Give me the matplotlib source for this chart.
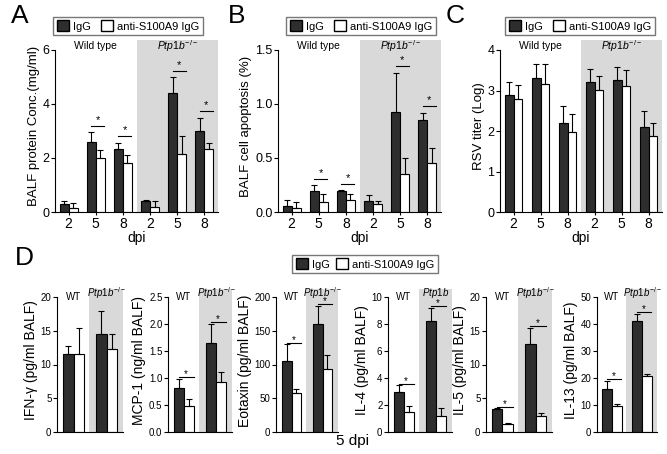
import numpy as np
import matplotlib
matplotlib.use("Agg")
import matplotlib.pyplot as plt
from matplotlib.patches import Patch

plt.rcParams["font.family"] = ["Liberation Sans", "DejaVu Sans"]
plt.rcParams["mathtext.fontset"] = "custom"
plt.rcParams["mathtext.rm"] = "Liberation Sans"
plt.rcParams["mathtext.it"] = "Liberation Sans:italic"

# ---- data: panels A-C (dpi 2,5,8 wild type then 2,5,8 Ptp1b-/-) ----
dpi_labels = ["2", "5", "8", "2", "5", "8"]

a_igg = [0.3, 2.6, 2.35, 0.4, 4.4, 3.0]
a_igg_err = [0.1, 0.35, 0.22, 0.05, 0.6, 0.5]
a_anti = [0.15, 2.0, 1.8, 0.2, 2.15, 2.35]
a_anti_err = [0.2, 0.3, 0.3, 0.22, 0.65, 0.2]
a_sig = [False, True, True, False, True, True]

b_igg = [0.06, 0.19, 0.19, 0.1, 0.93, 0.85]
b_igg_err = [0.05, 0.06, 0.01, 0.06, 0.36, 0.07]
b_anti = [0.04, 0.09, 0.11, 0.07, 0.35, 0.45]
b_anti_err = [0.05, 0.08, 0.06, 0.03, 0.15, 0.14]
b_sig = [False, True, True, False, True, True]

c_igg = [2.9, 3.3, 2.2, 3.2, 3.25, 2.1]
c_igg_err = [0.3, 0.35, 0.42, 0.33, 0.32, 0.4]
c_anti = [2.78, 3.15, 1.98, 3.02, 3.1, 1.88]
c_anti_err = [0.35, 0.5, 0.45, 0.35, 0.4, 0.32]
c_sig = [False] * 6

# ---- data: panel D (5 dpi, WT then Ptp1b-/-) ----
d_names = ["IFN-\u03b3 (pg/ml BALF)", "MCP-1 (ng/ml BALF)", "Eotaxin (pg/ml BALF)",
           "IL-4 (pg/ml BALF)", "IL-5 (pg/ml BALF)", "IL-13 (pg/ml BALF)"]
d_igg = [[11.6, 14.5], [0.82, 1.64], [105, 160], [3.0, 8.2], [3.4, 13.0], [16, 41]]
d_igg_err = [[1.2, 3.4], [0.16, 0.36], [25, 27], [0.45, 1.0], [0.1, 2.4], [3.0, 2.8]]
d_anti = [[11.5, 12.3], [0.48, 0.93], [58, 94], [1.5, 1.2], [1.2, 2.3], [9.8, 20.8]]
d_anti_err = [[3.9, 2.2], [0.13, 0.18], [5, 20], [0.4, 0.6], [0.1, 0.5], [0.7, 0.6]]
d_sig = [[False, False], [True, True], [True, True], [True, True], [True, True], [True, True]]
d_ticks = [[0, 5, 10, 15, 20], [0, 0.5, 1.0, 1.5, 2.0, 2.5], [0, 50, 100, 150, 200],
           [0, 2, 4, 6, 8, 10], [0, 5, 10, 15, 20], [0, 10, 20, 30, 40, 50]]
d_ptp_label = [True, True, True, False, True, True]

DARK = "#2e2e2e"
SHADE = "#d9d9d9"
PTP = r"$\mathit{Ptp1b}^{-/-}$"

W, H = 667, 454
fig = plt.figure(figsize=(W / 100, H / 100), dpi=100)


def px_axes(x0, x1, ytop, ybot):
    return fig.add_axes([x0 / W, 1 - ybot / H, (x1 - x0) / W, (ybot - ytop) / H])


def draw_bars(ax, igg, igg_err, anti, anti_err, sig, w, ymax, pad, star_fs, star_off):
    x = np.arange(len(igg))
    ax.bar(x - w / 2, igg, w, color=DARK, edgecolor="k", linewidth=0.8, zorder=2)
    ax.bar(x + w / 2, anti, w, color="white", edgecolor="k", linewidth=0.8, zorder=2)
    ax.errorbar(x - w / 2, igg, yerr=[np.zeros(len(igg)), igg_err], fmt="none",
                ecolor="k", elinewidth=0.8, capsize=2.5, capthick=0.8, zorder=3)
    ax.errorbar(x + w / 2, anti, yerr=[np.zeros(len(anti)), anti_err], fmt="none",
                ecolor="k", elinewidth=0.8, capsize=2.5, capthick=0.8, zorder=3)
    for i, s in enumerate(sig):
        if not s:
            continue
        top = max(igg[i] + igg_err[i], anti[i] + anti_err[i]) + pad * ymax
        ax.plot([x[i] - w / 2, x[i] + w * 0.95], [top, top], color="k", lw=0.8, zorder=3)
        ax.text(x[i] + w * 0.2, top + star_off * ymax, "*", ha="center", va="center",
                fontsize=star_fs, zorder=3)


def style(ax, ymax, fs):
    for s in ["top", "right"]:
        ax.spines[s].set_visible(False)
    ax.spines["left"].set_bounds(0, ymax)
    ax.spines["left"].set_linewidth(0.8)
    ax.spines["bottom"].set_linewidth(0.8)
    ax.tick_params(axis="y", length=3, width=0.8, labelsize=fs, pad=1)


def add_legend(cx, cy, spacing):
    fig.legend(handles=[Patch(fc=DARK, ec="k"), Patch(fc="white", ec="k")],
               labels=["IgG", "anti-S100A9 IgG"], loc="center",
               bbox_to_anchor=(cx / W, 1 - cy / H), ncol=2, fontsize=8,
               frameon=True, fancybox=False, edgecolor="#555555",
               handlelength=1.1, handleheight=1.1, handletextpad=0.35,
               columnspacing=spacing, borderpad=0.35)


# ---- panels A-C ----
top_panels = [
    ("A", 55, 218, a_igg, a_igg_err, a_anti, a_anti_err, a_sig, 6, [0, 2, 4, 6],
     "BALF protein Conc.(mg/ml)", 128, 20),
    ("B", 278, 441, b_igg, b_igg_err, b_anti, b_anti_err, b_sig, 1.5,
     [0.0, 0.5, 1.0, 1.5], "BALF cell apoptosis (%)", 361, 237),
    ("C", 500, 662, c_igg, c_igg_err, c_anti, c_anti_err, c_sig, 4, [0, 1, 2, 3, 4],
     "RSV titer (Log)", 580, 455),
]
for (letter, x0, x1, igg, igge, anti, antie, sig, ymax, ticks, ylab, legx,
     letx) in top_panels:
    ax = px_axes(x0, x1, 40, 212)
    ax.axvspan(2.5, 5.5, color=SHADE, zorder=0, lw=0)
    draw_bars(ax, igg, igge, anti, antie, sig, 0.33, ymax, 0.04, 8, 0.035)
    ax.set_xlim(-0.5, 5.5)
    ax.set_ylim(0, ymax * 172 / 162)
    style(ax, ymax, 9)
    ax.set_yticks(ticks)
    if letter == "B":
        ax.set_yticklabels(["%.1f" % t for t in ticks])
    ax.set_xticks(np.arange(6))
    ax.set_xticklabels(dpi_labels, fontsize=10)
    ax.tick_params(axis="x", length=2.5, width=0.8, pad=1)
    ax.set_ylabel(ylab, fontsize=9.5, labelpad=2)
    ax.set_xlabel("dpi", fontsize=10, labelpad=0)
    ax.text(1, ymax * 1.025, "Wild type", ha="center", va="center", fontsize=7.5)
    ax.text(4, ymax * 1.025, PTP, ha="center", va="center", fontsize=7.5)
    fig.text(letx / W, 1 - 16 / H, letter, fontsize=19, ha="center", va="center")
    add_legend(legx, 26, 0.9)

# ---- panel D ----
d_left = [57, 168, 276, 388, 486, 597]
d_right = [123, 232, 338, 452, 552, 657]
for i in range(6):
    ymax = d_ticks[i][-1]
    ax = px_axes(d_left[i], d_right[i], 289, 432)
    ax.axvspan(0.47, 1.5, color=SHADE, zorder=0, lw=0)
    draw_bars(ax, d_igg[i], d_igg_err[i], d_anti[i], d_anti_err[i], d_sig[i],
              0.32, ymax, 0.012, 7, 0.022)
    ax.set_xlim(-0.5, 1.5)
    ax.set_ylim(0, ymax * 143 / 135)
    style(ax, ymax, 7)
    ax.set_yticks(d_ticks[i])
    if i == 1:
        ax.set_yticklabels(["%.1f" % t for t in d_ticks[i]])
    ax.set_xticks([])
    ax.set_ylabel(d_names[i], fontsize=10, labelpad=2)
    ax.text(0, ymax * 1.0, "WT", ha="center", va="center", fontsize=7)
    ax.text(1, ymax * 1.03, PTP if d_ptp_label[i] else r"$\mathit{Ptp1b}$",
            ha="center", va="center", fontsize=7)

fig.text(15 / W, 1 - 258 / H, "D", fontsize=19, ha="left", va="center")
fig.text(352 / W, 1 - 441 / H, "5 dpi", fontsize=11, ha="center", va="center")
add_legend(365, 264, 0.5)

fig.savefig("out.png", dpi=100)
